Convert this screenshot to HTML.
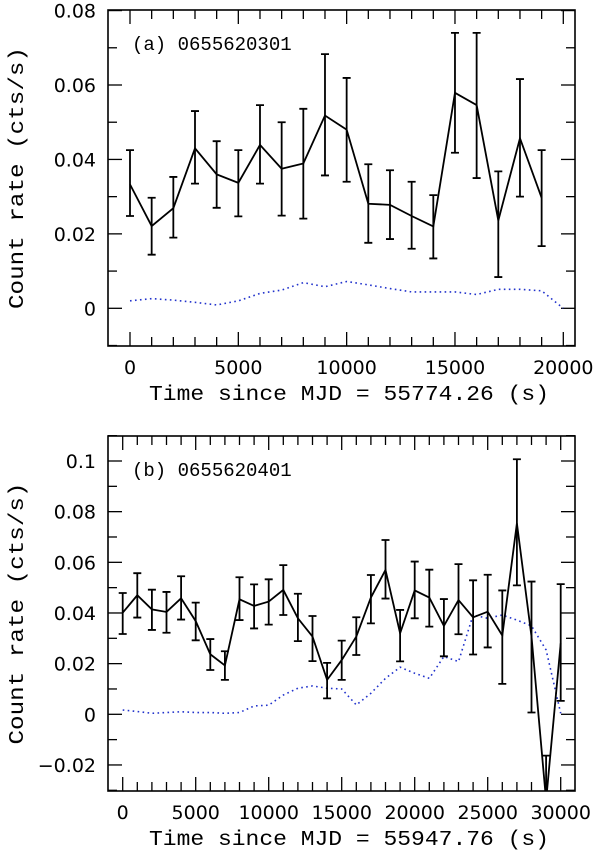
<!DOCTYPE html>
<html><head><meta charset="utf-8"><style>
html,body{margin:0;padding:0;background:#fff;}
svg{display:block;}
text{fill:#000;}
</style></head><body>
<svg id="chart" width="600" height="856" viewBox="0 0 600 856" xmlns="http://www.w3.org/2000/svg"></svg>
<script>
// Panel (a) data
const timesA = [0,1000,2000,3000,4000,5000,6000,7000,8000,9000,10000,11000,12000,13000,14000,15000,16000,17000,18000,19000];
const rateA = [0.0333,0.0221,0.0269,0.043,0.036,0.0337,0.0439,0.0375,0.0389,0.0518,0.048,0.0281,0.0278,0.0248,0.022,0.0579,0.0546,0.0236,0.0457,0.0297];
const errHiA = [0.0425,0.0297,0.0353,0.053,0.0449,0.0425,0.0546,0.050,0.0536,0.0683,0.0619,0.0387,0.0371,0.034,0.0304,0.074,0.074,0.0368,0.0616,0.0425];
const errLoA = [0.0248,0.0144,0.019,0.0335,0.027,0.0247,0.0335,0.0249,0.0241,0.0357,0.034,0.0176,0.0186,0.016,0.0134,0.0418,0.035,0.0084,0.030,0.0167];
const bgTimesA = [0,1000,2000,3000,4000,5000,6000,7000,8000,9000,10000,11000,12000,13000,14000,15000,16000,17000,18000,19000,20000];
const bgA = [0.002,0.0026,0.0022,0.0016,0.0009,0.002,0.004,0.0049,0.0069,0.0058,0.0072,0.0063,0.0053,0.0044,0.0044,0.0044,0.0037,0.0051,0.0051,0.0047,0];
const yTicksA = [0,0.02,0.04,0.06,0.08];
const yTickLabelsA = ["0","0.02","0.04","0.06","0.08"];
const xTicksA = [0,5000,10000,15000,20000];
const xTickLabelsA = ["0","5000","10000","15000","20000"];
// Panel (b) data
const timesB = [0,1000,2000,3000,4000,5000,6000,7000,8000,9000,10000,11000,12000,13000,14000,15000,16000,17000,18000,19000,20000,21000,22000,23000,24000,25000,26000,27000,28000,29000,30000];
const rateB = [0.0401,0.047,0.0414,0.0404,0.0458,0.0368,0.0237,0.0193,0.0454,0.0428,0.0445,0.0491,0.0379,0.0307,0.0136,0.0214,0.0307,0.0461,0.057,0.032,0.0489,0.0461,0.0349,0.0451,0.0383,0.0405,0.0311,0.0754,0.0307,-0.034,0.028];
const errHiB = [0.0479,0.0557,0.0492,0.0483,0.0545,0.0441,0.0297,0.0249,0.0541,0.0513,0.0533,0.0589,0.0476,0.0388,0.0203,0.0291,0.0383,0.055,0.0688,0.0412,0.0603,0.0571,0.0455,0.0593,0.0529,0.0551,0.0489,0.1007,0.0524,-0.0163,0.0514];
const errLoB = [0.0317,0.0382,0.0333,0.0322,0.0374,0.0292,0.0175,0.0136,0.0372,0.0339,0.0354,0.0392,0.0289,0.021,0.0063,0.0136,0.0234,0.0359,0.0457,0.0209,0.0379,0.0346,0.0229,0.0316,0.0236,0.0264,0.012,0.0509,0.0007,-0.052,0.0053];
const bgB = [0.0017,0.0011,0.0004,0.0007,0.001,0.0007,0.0007,0.0004,0.0007,0.0033,0.0036,0.0076,0.0103,0.0112,0.0103,0.01,0.0037,0.0083,0.0142,0.0186,0.0162,0.0142,0.0228,0.0208,0.0392,0.0379,0.0392,0.0372,0.0349,0.0254,0.0004];
const yTicksB = [-0.02,0,0.02,0.04,0.06,0.08,0.1];
const yTickLabelsB = ["\u22120.02","0","0.02","0.04","0.06","0.08","0.1"];
const xTicksB = [0,5000,10000,15000,20000,25000,30000];
const xTickLabelsB = ["0","5000","10000","15000","20000","25000","30000"];

const NS="http://www.w3.org/2000/svg";
const svg=document.getElementById('chart');
function mk(tag,attrs,parent){const e=document.createElementNS(NS,tag);for(const k in attrs)e.setAttribute(k,attrs[k]);(parent||svg).appendChild(e);return e;}

function panel(cfg){
  const g=mk('g',{});
  
  
  const X=t=>cfg.x0+(t-cfg.t0)*(cfg.x1-cfg.x0)/(cfg.t1-cfg.t0);
  const Y=v=>cfg.y0+(v-cfg.v0)*(cfg.y1-cfg.y0)/(cfg.v1-cfg.v0);
  const L=cfg.L,R=cfg.R,T=cfg.T,B=cfg.B;
  const clipId=cfg.name+'-clip';
  const cp=mk('clipPath',{id:clipId},g);mk('rect',{x:L,y:T,width:R-L,height:B-T},cp);
  const tg=mk('g',{stroke:'#000','stroke-width':1.3},g);
  
  
  for(let t=cfg.t0;t<=cfg.tmax;t+=1000){
    const x=X(t); if(x<L||x>R) continue;
    const major=(t%5000===0);
    const len=major?14:9;
    mk('line',{x1:x,y1:B,x2:x,y2:B-len},tg);
    mk('line',{x1:x,y1:T,x2:x,y2:T+len},tg);
  }
  for(let i=-5;i<=12;i++){
    const v=i*0.01; const y=Y(v); if(y<T-0.5||y>B+0.5) continue;
    const major=(i%2===0);
    const len=major?14:9;
    mk('line',{x1:L,y1:y,x2:L+len,y2:y},tg);
    mk('line',{x1:R,y1:y,x2:R-len,y2:y},tg);
  }
  const fr=mk('rect',{x:L,y:T,width:R-L,height:B-T,fill:'none',stroke:'#000','stroke-width':1.6},g);
  
  
  cfg.yTicks.forEach((v,i)=>{
    const t=mk('text',{x:L-12,y:Y(v)+7,'text-anchor':'end','font-family':'"DejaVu Sans","Liberation Sans",sans-serif','font-size':19},g);
    t.textContent=cfg.yLabels[i];
    
    
  });
  cfg.xTicks.forEach((v,i)=>{
    const t=mk('text',{x:X(v),y:B+28,'text-anchor':'middle','font-family':'"DejaVu Sans","Liberation Sans",sans-serif','font-size':19},g);
    t.textContent=cfg.xLabels[i];
    
    
  });
  const xt=mk('text',{x:(130+548)/2+10,y:B+54,'text-anchor':'middle','font-family':'"Liberation Mono",monospace','font-size':21,textLength:400,lengthAdjust:'spacingAndGlyphs'},g);
  xt.textContent=cfg.xTitle;
  
  
  const yc=(T+B)/2;
  const yt=mk('text',{x:0,y:0,'text-anchor':'middle','font-family':'"Liberation Mono",monospace','font-size':21,textLength:262,lengthAdjust:'spacingAndGlyphs',transform:`translate(23,${yc}) rotate(-90)`},g);
  yt.textContent='Count rate (cts/s)';
  
  
  const lab=mk('text',{x:L+24,y:T+40,'font-family':'"Liberation Mono",monospace','font-size':19},g);
  lab.textContent=cfg.label;
  
  
  const dg=mk('g',{'clip-path':`url(#${clipId})`},g);
  const bgp=mk('polyline',{points:cfg.bgT.map((t,i)=>X(t)+','+Y(cfg.bg[i])).join(' '),fill:'none',stroke:'#2233cc','stroke-width':1.6,'stroke-dasharray':'1.6,3.4'},dg);
  
  
  const ln=mk('polyline',{points:cfg.times.map((t,i)=>X(t)+','+Y(cfg.rate[i])).join(' '),fill:'none',stroke:'#000','stroke-width':1.8},dg);
  
  
  cfg.times.forEach((t,i)=>{
    const x=X(t),yh=Y(cfg.hi[i]),yl=Y(cfg.lo[i]);
    const eb=mk('path',{d:`M${x},${yh}V${yl}M${x-4},${yh}H${x+4}M${x-4},${yl}H${x+4}`,stroke:'#000','stroke-width':1.8,fill:'none'},dg);
    
    
  });
}

panel({name:'panel-a',L:108,R:575,T:10,B:346,x0:130,x1:563.3,t0:0,t1:20000,tmax:20000,y0:308.3,y1:85,v0:0,v1:0.06,
  yTicks:yTicksA,yLabels:yTickLabelsA,xTicks:xTicksA,xLabels:xTickLabelsA,xTitle:'Time since MJD = 55774.26 (s)',label:'(a) 0655620301',
  times:timesA,rate:rateA,hi:errHiA,lo:errLoA,bgT:bgTimesA,bg:bgA});
panel({name:'panel-b',L:108,R:575,T:436,B:791,x0:122.7,x1:560.7,t0:0,t1:30000,tmax:30000,y0:714.3,y1:461,v0:0,v1:0.1,
  yTicks:yTicksB,yLabels:yTickLabelsB,xTicks:xTicksB,xLabels:xTickLabelsB,xTitle:'Time since MJD = 55947.76 (s)',label:'(b) 0655620401',
  times:timesB,rate:rateB,hi:errHiB,lo:errLoB,bgT:timesB,bg:bgB});
</script>
</body></html>
